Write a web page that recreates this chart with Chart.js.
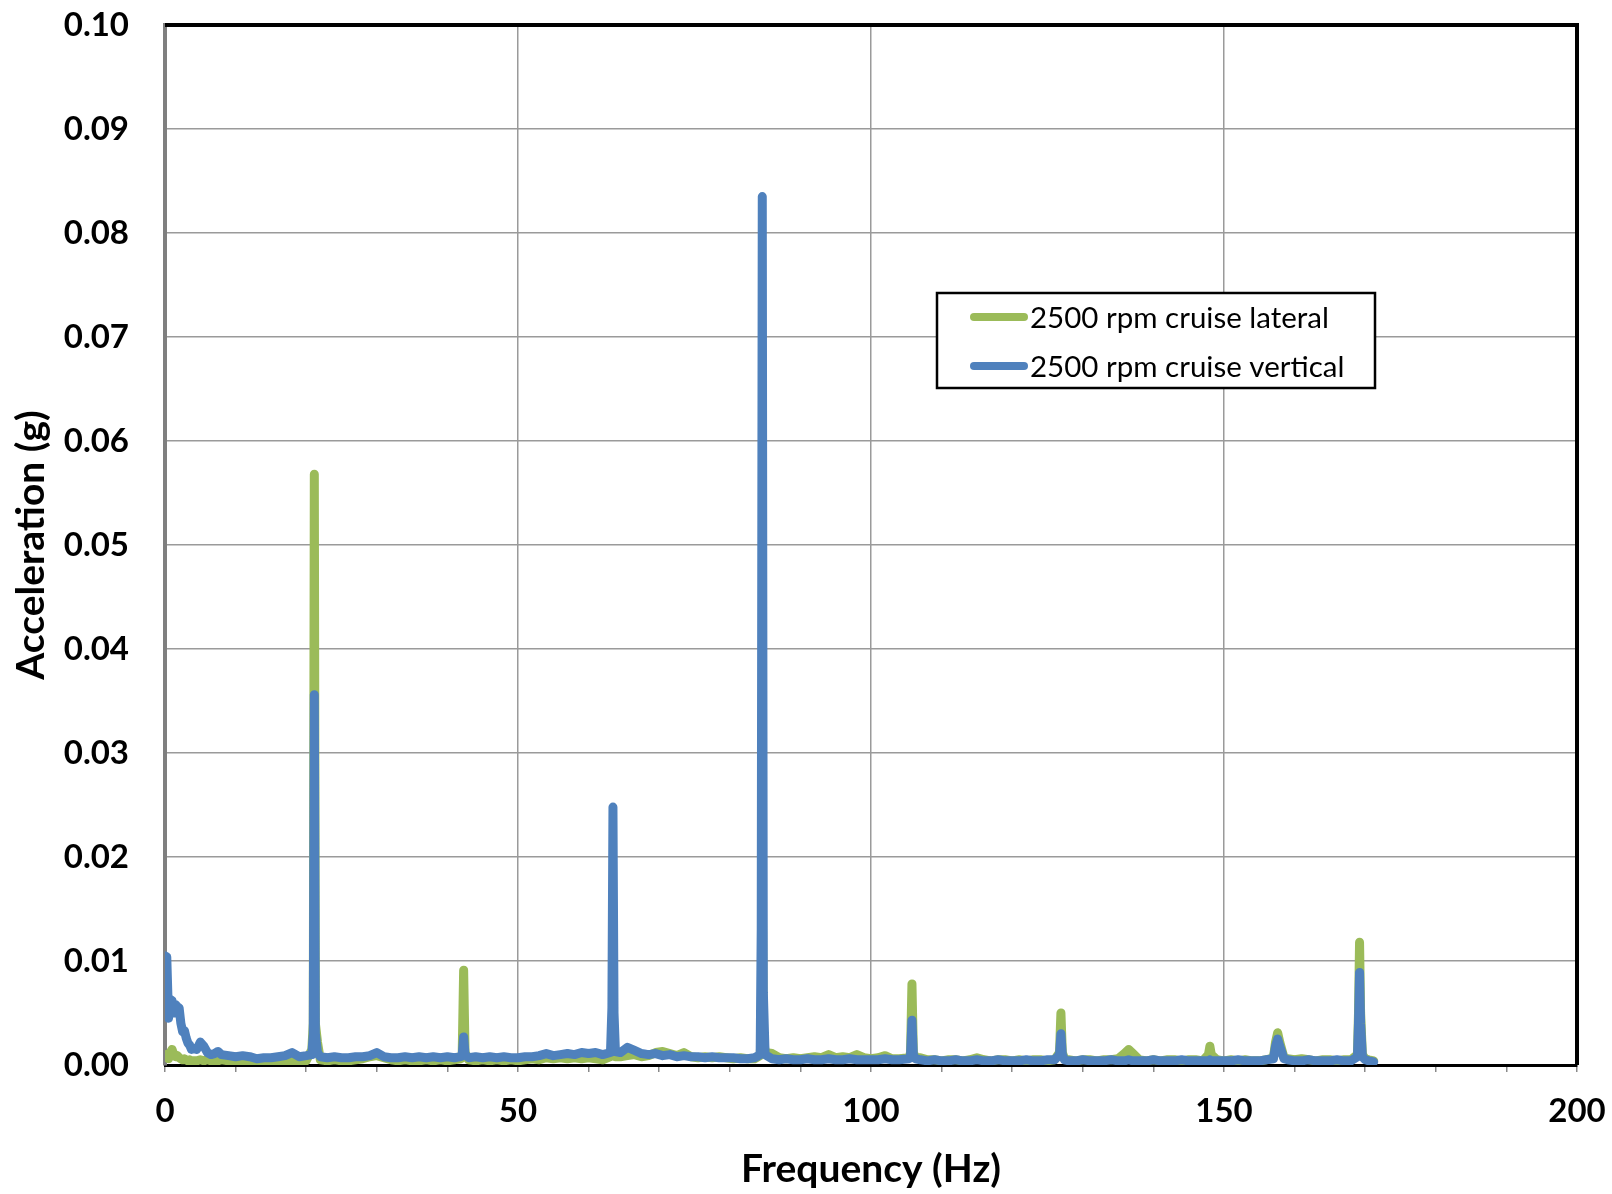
<!DOCTYPE html>
<html>
<head>
<meta charset="utf-8">
<script src="https://cdn.jsdelivr.net/npm/chart.js@4.4.1/dist/chart.umd.min.js"></script>
<style>
  html, body { margin: 0; padding: 0; background: #fff; }
  #wrap { width: 1612px; height: 1194px; }
</style>
</head>
<body>
<div id="wrap"><canvas id="fftChart" width="1612" height="1194"></canvas></div>
<script>
// Frequency bins (Hz) shared by both spectra
const freqHz = [
  0, 0.25, 0.5, 0.75, 1, 1.25, 1.5, 1.75, 2, 2.25,
  2.5, 2.75, 3, 3.25, 3.5, 3.75, 4, 4.5, 5, 5.5,
  6, 6.5, 7, 7.5, 8, 9, 10, 11, 12, 13,
  14, 15, 16, 17, 18, 19, 20, 20.8, 21, 21.15,
  21.3, 21.6, 22, 23, 24, 25, 26, 27, 28, 29,
  30, 31, 32, 33, 34, 35, 36, 37, 38, 39,
  40, 41, 41.9, 42.1, 42.3, 42.5, 43, 44, 45, 46,
  47, 48, 49, 50, 51, 52, 53, 54, 55, 56,
  57, 58, 59, 60, 61, 62, 63.1, 63.3, 63.45, 63.6,
  63.8, 64.5, 65.5, 66.5, 67.5, 68.5, 69.5, 70.5, 71.5, 72.5,
  73.5, 74.5, 75.5, 76.5, 77.5, 78.5, 79.5, 80.5, 81.5, 82.5,
  83.5, 84.3, 84.45, 84.6, 84.75, 85, 86, 87, 88, 89,
  90, 91, 92, 93, 94, 95, 96, 97, 98, 99,
  100, 101, 102, 103, 104, 105.4, 105.6, 105.8, 106, 106.3,
  107, 108, 109, 110, 111, 112, 113, 114, 115, 116,
  117, 118, 119, 120, 121, 122, 123, 124, 125, 126,
  126.7, 126.9, 127.1, 127.4, 128, 129, 130, 131, 132, 133,
  134, 135, 135.9, 136.5, 137.1, 138, 139, 140, 141, 142,
  143, 144, 145, 146, 147, 147.8, 148, 148.2, 149, 150,
  151, 152, 153, 154, 155, 156, 157, 157.3, 157.6, 157.9,
  158.5, 159, 160, 161, 162, 163, 164, 165, 166, 167,
  168, 168.9, 169.05, 169.2, 169.35, 169.6, 170, 170.5, 171.2
];

// 2500 rpm cruise lateral (g)
const lateralG = [
  0.0010, 0.0008, 0.0006, 0.0012, 0.0015, 0.0010, 0.0008, 0.0009, 0.0007, 0.0006,
  0.0005, 0.0006, 0.0005, 0.0004, 0.0005, 0.0004, 0.0004, 0.0004, 0.0005, 0.0004,
  0.0005, 0.0004, 0.0003, 0.0004, 0.0005, 0.0004, 0.0003, 0.0004, 0.0003, 0.0004,
  0.0003, 0.0003, 0.0004, 0.0003, 0.0004, 0.0003, 0.0004, 0.0015, 0.0040, 0.0568,
  0.0040, 0.0022, 0.0005, 0.0004, 0.0005, 0.0004, 0.0004, 0.0005, 0.0006, 0.0008,
  0.0009, 0.0007, 0.0005, 0.0004, 0.0005, 0.0004, 0.0004, 0.0005, 0.0004, 0.0005,
  0.0004, 0.0005, 0.0006, 0.0012, 0.0091, 0.0012, 0.0005, 0.0004, 0.0005, 0.0004,
  0.0005, 0.0004, 0.0005, 0.0004, 0.0005, 0.0006, 0.0005, 0.0007, 0.0006, 0.0007,
  0.0006, 0.0007, 0.0006, 0.0007, 0.0006, 0.0005, 0.0008, 0.0012, 0.0055, 0.0012,
  0.0008, 0.0008, 0.0009, 0.0010, 0.0008, 0.0009, 0.0012, 0.0013, 0.0011, 0.0009,
  0.0012, 0.0008, 0.0007, 0.0008, 0.0007, 0.0008, 0.0007, 0.0006, 0.0007, 0.0006,
  0.0006, 0.0009, 0.0030, 0.0175, 0.0030, 0.0012, 0.0011, 0.0007, 0.0006, 0.0007,
  0.0006, 0.0007, 0.0008, 0.0007, 0.0010, 0.0007, 0.0008, 0.0007, 0.0010, 0.0007,
  0.0006, 0.0007, 0.0009, 0.0006, 0.0006, 0.0007, 0.0012, 0.0078, 0.0012, 0.0007,
  0.0007, 0.0005, 0.0005, 0.0004, 0.0005, 0.0005, 0.0004, 0.0005, 0.0007, 0.0005,
  0.0004, 0.0005, 0.0005, 0.0004, 0.0005, 0.0004, 0.0005, 0.0005, 0.0004, 0.0005,
  0.0012, 0.0050, 0.0012, 0.0006, 0.0005, 0.0004, 0.0005, 0.0005, 0.0004, 0.0005,
  0.0005, 0.0006, 0.0011, 0.0015, 0.0011, 0.0005, 0.0004, 0.0005, 0.0004, 0.0005,
  0.0005, 0.0004, 0.0005, 0.0005, 0.0004, 0.0010, 0.0018, 0.0010, 0.0005, 0.0004,
  0.0005, 0.0004, 0.0005, 0.0004, 0.0004, 0.0005, 0.0007, 0.0022, 0.0031, 0.0022,
  0.0007, 0.0006, 0.0005, 0.0006, 0.0005, 0.0004, 0.0005, 0.0005, 0.0004, 0.0005,
  0.0005, 0.0010, 0.0050, 0.0118, 0.0050, 0.0010, 0.0006, 0.0005, 0.0004
];

// 2500 rpm cruise vertical (g)
const verticalG = [
  0.0105, 0.0104, 0.0045, 0.0063, 0.0062, 0.0050, 0.0058, 0.0056, 0.0055, 0.0040,
  0.0032, 0.0033, 0.0026, 0.0021, 0.0019, 0.0015, 0.0016, 0.0015, 0.0022, 0.0018,
  0.0012, 0.0010, 0.0011, 0.0013, 0.0010, 0.0009, 0.0008, 0.0009, 0.0008, 0.0006,
  0.0007, 0.0007, 0.0008, 0.0009, 0.0012, 0.0008, 0.0009, 0.0010, 0.0030, 0.0356,
  0.0030, 0.0012, 0.0008, 0.0007, 0.0008, 0.0007, 0.0007, 0.0008, 0.0008, 0.0009,
  0.0012, 0.0008, 0.0007, 0.0007, 0.0008, 0.0007, 0.0008, 0.0007, 0.0008, 0.0007,
  0.0008, 0.0007, 0.0008, 0.0010, 0.0027, 0.0010, 0.0007, 0.0008, 0.0007, 0.0008,
  0.0007, 0.0008, 0.0007, 0.0007, 0.0008, 0.0008, 0.0009, 0.0011, 0.0009, 0.0010,
  0.0011, 0.0010, 0.0012, 0.0011, 0.0012, 0.0010, 0.0012, 0.0055, 0.0248, 0.0050,
  0.0013, 0.0012, 0.0017, 0.0014, 0.0011, 0.0010, 0.0011, 0.0009, 0.0010, 0.0008,
  0.0009, 0.0008, 0.0008, 0.0007, 0.0008, 0.0007, 0.0007, 0.0007, 0.0006, 0.0006,
  0.0007, 0.0010, 0.0130, 0.0835, 0.0070, 0.0010, 0.0006, 0.0005, 0.0006, 0.0005,
  0.0005, 0.0006, 0.0005, 0.0005, 0.0006, 0.0005, 0.0005, 0.0006, 0.0005, 0.0005,
  0.0005, 0.0005, 0.0006, 0.0005, 0.0005, 0.0006, 0.0010, 0.0043, 0.0010, 0.0006,
  0.0005, 0.0004, 0.0005, 0.0004, 0.0004, 0.0005, 0.0004, 0.0004, 0.0005, 0.0004,
  0.0004, 0.0005, 0.0004, 0.0004, 0.0004, 0.0005, 0.0004, 0.0004, 0.0005, 0.0005,
  0.0010, 0.0030, 0.0010, 0.0005, 0.0004, 0.0004, 0.0005, 0.0004, 0.0004, 0.0004,
  0.0005, 0.0004, 0.0004, 0.0005, 0.0004, 0.0004, 0.0004, 0.0005, 0.0004, 0.0004,
  0.0004, 0.0005, 0.0004, 0.0004, 0.0004, 0.0004, 0.0005, 0.0004, 0.0004, 0.0004,
  0.0004, 0.0005, 0.0004, 0.0004, 0.0004, 0.0005, 0.0006, 0.0018, 0.0025, 0.0018,
  0.0006, 0.0005, 0.0004, 0.0004, 0.0005, 0.0004, 0.0004, 0.0004, 0.0005, 0.0004,
  0.0004, 0.0008, 0.0040, 0.0089, 0.0040, 0.0008, 0.0005, 0.0004, 0.0003
];

const seriesNames = ['2500 rpm cruise lateral', '2500 rpm cruise vertical'];
const seriesColors = ['#9BBB59', '#4F81BD'];

const FONT = 'Lato, "Open Sans", sans-serif';

// legend drawn inside the plot, Excel style
const boxLegend = {
  id: 'boxLegend',
  afterDraw(chart) {
    const { ctx } = chart;
    const x0 = 937, y0 = 293, w = 438, h = 95;
    ctx.save();
    ctx.fillStyle = '#fff';
    ctx.fillRect(x0, y0, w, h);
    ctx.strokeStyle = '#000';
    ctx.lineWidth = 2.5;
    ctx.strokeRect(x0, y0, w, h);
    ctx.font = '29.5px ' + FONT;
    ctx.textBaseline = 'middle';
    chart.data.datasets.forEach((ds, i) => {
      const cy = y0 + 24 + i * 49;
      ctx.strokeStyle = ds.borderColor;
      ctx.lineWidth = 8;
      ctx.lineCap = 'round';
      ctx.beginPath();
      ctx.moveTo(974, cy);
      ctx.lineTo(1024, cy);
      ctx.stroke();
      ctx.fillStyle = '#000';
      ctx.fillText(ds.label, 1030, cy + 1);
    });
    ctx.restore();
  }
};

// black top/right frame like the Excel plot area
const plotFrame = {
  id: 'plotFrame',
  afterDraw(chart) {
    const { ctx, chartArea: a } = chart;
    ctx.save();
    ctx.strokeStyle = '#000';
    ctx.lineWidth = 4;
    ctx.beginPath();
    ctx.moveTo(a.left, a.top);
    ctx.lineTo(a.right, a.top);
    ctx.lineTo(a.right, a.bottom);
    ctx.stroke();
    ctx.restore();
  }
};

const ctx = document.getElementById('fftChart').getContext('2d');
new Chart(ctx, {
  type: 'line',
  data: {
    datasets: [
      {
        label: seriesNames[0],
        data: freqHz.map((f, i) => ({ x: f, y: lateralG[i] })),
        borderColor: seriesColors[0],
        borderWidth: 9,
        borderJoinStyle: 'round',
        borderCapStyle: 'round',
        pointRadius: 0,
        tension: 0,
        order: 1
      },
      {
        label: seriesNames[1],
        data: freqHz.map((f, i) => ({ x: f, y: verticalG[i] })),
        borderColor: seriesColors[1],
        borderWidth: 9,
        borderJoinStyle: 'round',
        borderCapStyle: 'round',
        pointRadius: 0,
        tension: 0,
        order: 0
      }
    ]
  },
  options: {
    responsive: false,
    animation: false,
    layout: { padding: { top: 25, right: 35, left: 0, bottom: 0 } },
    plugins: { legend: { display: false }, tooltip: { enabled: false } },
    scales: {
      x: {
        type: 'linear',
        min: 0, max: 200,
        afterFit: (s) => { s.height = 129; s.paddingLeft = 0; s.paddingRight = 0; },
        border: { color: '#000', width: 3 },
        grid: {
          color: (c) => (c.tick && c.tick.value % 50 === 0) ? '#9a9a9a' : 'rgba(0,0,0,0)',
          lineWidth: 1.5,
          tickColor: '#8a8a8a',
          tickLength: 7
        },
        ticks: {
          stepSize: 10,
          autoSkip: false,
          maxRotation: 0,
          padding: 20,
          color: '#000',
          font: { family: FONT, size: 33, weight: 'bold' },
          callback: (v) => (v % 50 === 0 ? String(v) : '')
        },
        title: {
          display: true,
          text: 'Frequency (Hz)',
          color: '#000',
          font: { family: FONT, size: 39, weight: 'bold' },
          padding: { top: 4, bottom: 1 }
        }
      },
      y: {
        min: 0, max: 0.1,
        afterFit: (s) => { s.width = 165; s.paddingTop = 0; s.paddingBottom = 0; },
        border: { color: '#7f7f7f', width: 4 },
        grid: { color: '#9a9a9a', lineWidth: 1.5, drawTicks: false },
        ticks: {
          stepSize: 0.01,
          padding: 36,
          color: '#000',
          font: { family: FONT, size: 33, weight: 'bold' },
          callback: (v) => v.toFixed(2)
        },
        title: {
          display: true,
          text: 'Acceleration (g)',
          color: '#000',
          font: { family: FONT, size: 39, weight: 'bold' },
          padding: { top: 8, bottom: 0 }
        }
      }
    }
  },
  plugins: [plotFrame, boxLegend]
});
</script>
</body>
</html>
